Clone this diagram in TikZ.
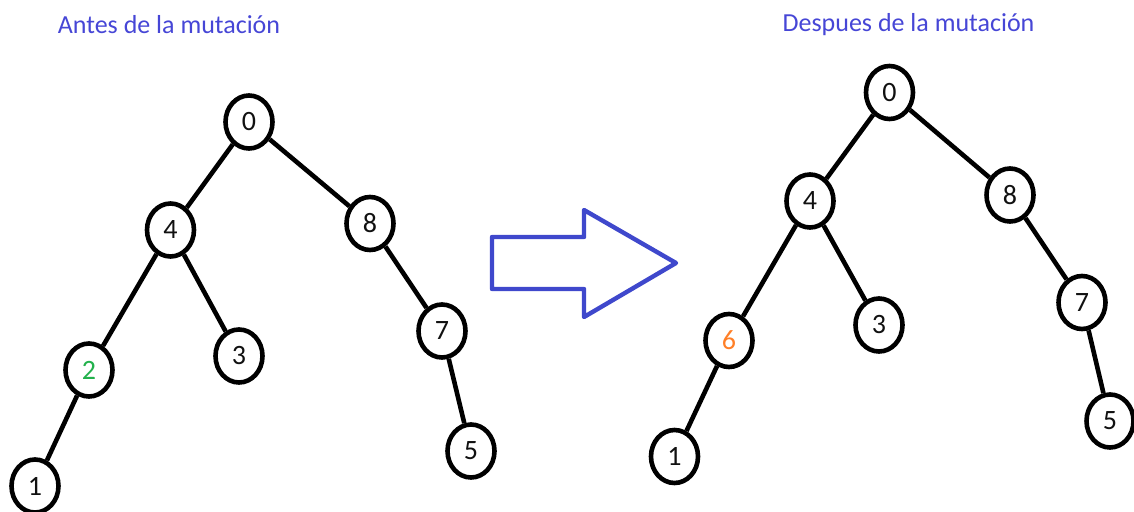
\documentclass[tikz,border=0pt]{standalone}
\usepackage{fontspec}
\setmainfont{Carlito}
\usetikzlibrary{shapes.geometric}
\definecolor{titleblue}{HTML}{4646D6}
\definecolor{arrowblue}{HTML}{3F48CC}
\definecolor{green2}{HTML}{22B14C}
\definecolor{orange6}{HTML}{FF7F27}
\definecolor{digit}{HTML}{111111}
\tikzset{
  treenode/.style={ellipse, draw=black, line width=4.6pt, fill=white,
    minimum width=47pt, minimum height=53pt, inner sep=0pt,
    text=digit, font=\fontsize{28}{28}\selectfont},
  treeedge/.style={draw=black, line width=4.6pt},
  caption/.style={text=titleblue, font=\fontsize{26}{27}\selectfont, inner sep=0pt},
  bigarrow/.style={draw=arrowblue, line width=4.4pt, line join=round}
}
\begin{document}
\begin{tikzpicture}[x=1pt, y=-1pt]
  \useasboundingbox (0,0) rectangle (1134,511);

  % headings
  \node[caption] (tleft) at (169,25) {Antes de la mutación};
  \node[caption] (tright) at (908.5,25) {Despues de la mutación};

  % tree before
  \node[treenode] (a0) at (249,122) {0};
  \node[treenode] (a4) at (170.5,230) {4};
  \node[treenode] (a8) at (370,223.5) {8};
  \node[treenode] (a2) at (89,370) {\textcolor{green2}{2}};
  \node[treenode] (a3) at (239,356) {3};
  \node[treenode] (a7) at (442,331) {7};
  \node[treenode] (a1) at (35,486) {1};
  \node[treenode] (a5) at (471,451) {5};

  \draw[treeedge] (a0) -- (a4);
  \draw[treeedge] (a0) -- (a8);
  \draw[treeedge] (a4) -- (a2);
  \draw[treeedge] (a4) -- (a3);
  \draw[treeedge] (a8) -- (a7);
  \draw[treeedge] (a2) -- (a1);
  \draw[treeedge] (a7) -- (a5);

  % transformation arrow
  \draw[bigarrow] (492,237) -- (584,237) -- (584,210) -- (676,263)
    -- (584,317) -- (584,289) -- (492,289) -- cycle;

  % tree after
  \node[treenode] (b0) at (889.5,92.5) {0};
  \node[treenode] (b4) at (810,201) {4};
  \node[treenode] (b8) at (1010,195) {8};
  \node[treenode] (b6) at (729,340.5) {\textcolor{orange6}{6}};
  \node[treenode] (b3) at (879,325) {3};
  \node[treenode] (b7) at (1082,302.5) {7};
  \node[treenode] (b1) at (674.5,456.5) {1};
  \node[treenode] (b5) at (1110,421) {5};

  \draw[treeedge] (b0) -- (b4);
  \draw[treeedge] (b0) -- (b8);
  \draw[treeedge] (b4) -- (b6);
  \draw[treeedge] (b4) -- (b3);
  \draw[treeedge] (b8) -- (b7);
  \draw[treeedge] (b6) -- (b1);
  \draw[treeedge] (b7) -- (b5);
\end{tikzpicture}
\end{document}
